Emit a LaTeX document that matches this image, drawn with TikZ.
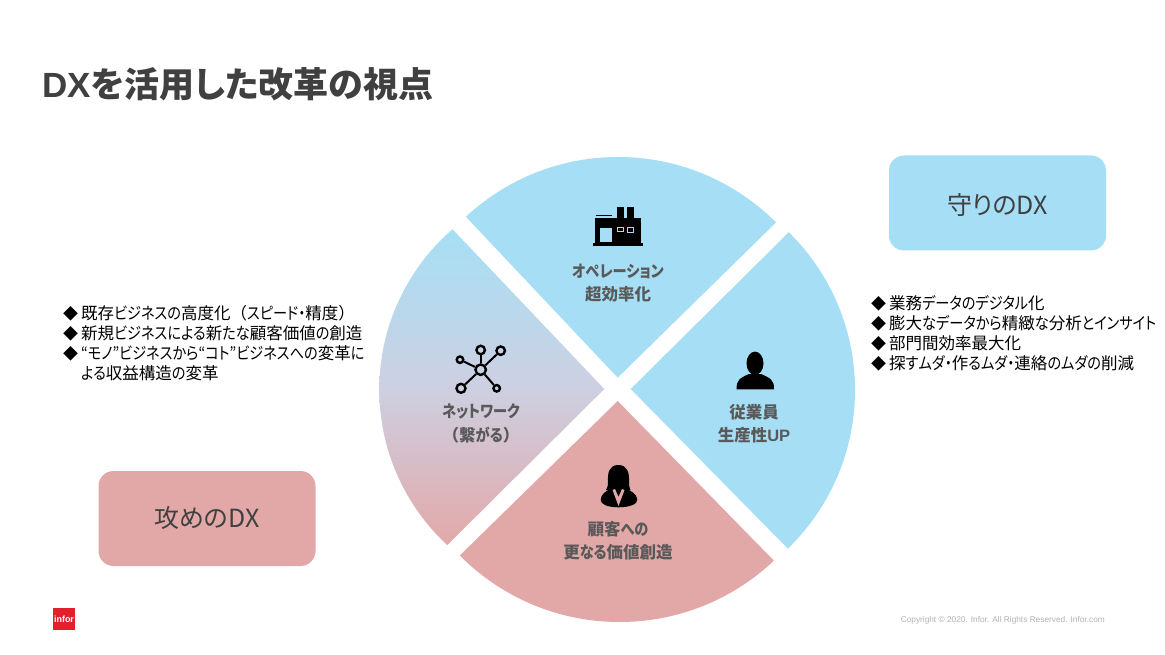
\documentclass[tikz,border=0pt]{standalone}
\usepackage{fontspec}
\setmainfont{Noto Sans CJK JP}
\newfontfamily\latinfont{Liberation Sans}
\newfontfamily\paltfont{Noto Sans CJK JP}[RawFeature={+palt}]
\newfontfamily\kanafont{Noto Sans CJK JP}[FakeStretch=0.86,RawFeature={+palt}]
\newcommand{\kn}[1]{{\kanafont #1}}
\definecolor{skyfill}{HTML}{A6DFF5}
\definecolor{rosefill}{HTML}{E2A8A8}
\definecolor{midfill}{HTML}{CDD0E2}
\definecolor{labeltext}{HTML}{595959}
\definecolor{titletext}{HTML}{404040}
\definecolor{inforred}{HTML}{E1202C}
\newcommand{\bul}{\makebox[18pt][l]{\fontsize{15}{15}\selectfont ◆}}
\tikzset{
  seclabel/.style={font=\fontsize{16.5}{23.5}\selectfont\bfseries, text=labeltext, align=center, inner sep=0pt},
  listtext/.style={font=\fontsize{16.5}{20}\selectfont, text=black, align=left, anchor=north west, inner sep=0pt},
  dxbox/.style={rounded corners=15pt, minimum width=217pt, minimum height=95pt, inner sep=0pt, font=\paltfont\fontsize{25}{30}\selectfont, text=titletext},
  netnode/.style={circle, draw=black, line width=2.4pt, inner sep=0pt},
  netlink/.style={draw=black, line width=2pt}
}
\begin{document}
\begin{tikzpicture}[x=1pt,y=-1pt]
\useasboundingbox (0,0) rectangle (1165,655);
\fill[white] (0,0) rectangle (1165,655);
% title
\node[anchor=west, inner sep=0pt, font=\paltfont\fontsize{35}{40}\selectfont\bfseries, text=titletext] (title) at (42,84) {{\latinfont DX}を活用した改革の視点};
% sectors
\begin{scope}
\clip (618,380.5) circle[radius=223.5pt];
\fill[skyfill] (617.7,377.7) -- (389.7,136) -- (855,145) -- cycle;
\end{scope}
\begin{scope}
\clip (634,390) circle[radius=221pt];
\fill[skyfill] (630.7,389) -- (865.6,156) -- (863,625) -- cycle;
\end{scope}
\begin{scope}
\clip (619.5,397) circle[radius=225pt];
\fill[rosefill] (617.7,401) -- (380,633.5) -- (851,639.5) -- cycle;
\end{scope}
\begin{scope}
\clip (591.3,389.5) circle[radius=212pt];
\shade[top color=skyfill, bottom color=rosefill, middle color=midfill] (604.3,389) -- (452.3,229) -- (370,229) -- (370,545) -- (447.3,545) -- cycle;
\end{scope}
% factory icon
\fill[black] (595,218.3) rectangle (640.7,243.5);
\fill[black] (592.7,243.3) rectangle (643.3,245.7);
\fill[black] (616.7,206.7) rectangle (624.3,219);
\fill[black] (626.7,206.7) rectangle (634.3,219);
\draw[black, line width=0.6pt] (595.7,215) -- (611.7,215);
\fill[skyfill] (600,228.3) rectangle (612.3,242.3);
\draw[skyfill, line width=1pt] (617.8,227.8) rectangle (623.5,231.6);
\draw[skyfill, line width=1pt] (627.2,227.8) rectangle (633.8,232.2);
% person icon
\fill[black] (755,363.3) ellipse[x radius=8.5pt, y radius=11.7pt];
\fill[black] (736.7,389.3) .. controls (736.2,380) and (740,378) .. (749,374) -- (761,374) .. controls (770,378) and (774.5,380) .. (774,389.3) -- cycle;
% woman icon
\fill[black] (618.3,465) .. controls (609,465) and (607.5,473) .. (608,482) .. controls (608,487) and (606.5,489) .. (606,490) -- (630.5,490) .. controls (630,489) and (629,487) .. (629,482) .. controls (629.5,473) and (627.5,465) .. (618.3,465) -- cycle;
\fill[black] (600.7,500) .. controls (600.7,494) and (606,491) .. (612,488) -- (625,488) .. controls (631,491) and (637.3,494) .. (637.3,500) .. controls (637.3,504) and (630,507.3) .. (618.5,507.3) .. controls (607,507.3) and (600.7,504) .. (600.7,500) -- cycle;
\fill[rosefill] (612.5,490) -- (618.5,506) -- (624.5,490) -- (622,489) -- (618.5,497) -- (615,489) -- cycle;
% network icon
\node[netnode, minimum size=10.5pt] (nc) at (480.7,369.7) {};
\node[netnode, minimum size=8.5pt] (n1) at (480.7,350) {};
\node[netnode, minimum size=8.5pt] (n2) at (500.7,350.7) {};
\node[netnode, minimum size=6.5pt] (n3) at (460,359.7) {};
\node[netnode, minimum size=9pt] (n4) at (461,388.3) {};
\node[netnode, minimum size=6.5pt] (n5) at (496.7,388.3) {};
\foreach \n in {n1,n2,n3,n4,n5} \draw[netlink] (nc) -- (\n);
% sector labels
\node[seclabel] (lab1) at (618,283) {\kn{オペレーション}\\超効率化};
\node[seclabel] (lab2) at (754,423.5) {従業員\\生産性{\latinfont UP}};
\node[seclabel] (lab3) at (618,540.5) {顧客\kn{への}\\更\kn{なる}価値創造};
\node[seclabel] (lab4) at (481,423.5) {\kn{ネットワーク}\\（繋\kn{がる}）};
% boxes
\node[dxbox, fill=skyfill] (mamori) at (997.5,203) {\raisebox{-11.5pt}[0pt][0pt]{守りのDX}};
\node[dxbox, fill=rosefill] (seme) at (207,518.5) {\raisebox{-9pt}[0pt][0pt]{攻めのDX}};
% lists
\node[listtext] (leftlist) at (63,305.5) {\bul 既存\kn{ビジネスの}高度化（\kn{スピード・}精度）\\\bul 新規\kn{ビジネスによる}新\kn{たな}顧客価値\kn{の}創造\\\bul \kn{“モノ”ビジネスから“コト”ビジネスへの}変革\kn{に}\\\hspace*{18pt}\kn{よる}収益構造\kn{の}変革};
\node[listtext] (rightlist) at (871,295.5) {\bul 業務\kn{データのデジタル}化\\\bul 膨大\kn{なデータから}精緻\kn{な}分析\kn{とインサイト}\\\bul 部門間効率最大化\\\bul 探\kn{すムダ・}作\kn{るムダ・}連絡\kn{のムダの}削減};
% footer
\node[fill=inforred, minimum width=22pt, minimum height=22pt, inner sep=0pt, text=white, font=\latinfont\bfseries\fontsize{9}{9}\selectfont] (logo) at (64,619) {infor};
\node[anchor=east, inner sep=0pt, text=black!30, font=\latinfont\fontsize{8.3}{10}\selectfont] (copy) at (1105,620) {Copyright © 2020. Infor. All Rights Reserved. Infor.com};
\end{tikzpicture}
\end{document}
